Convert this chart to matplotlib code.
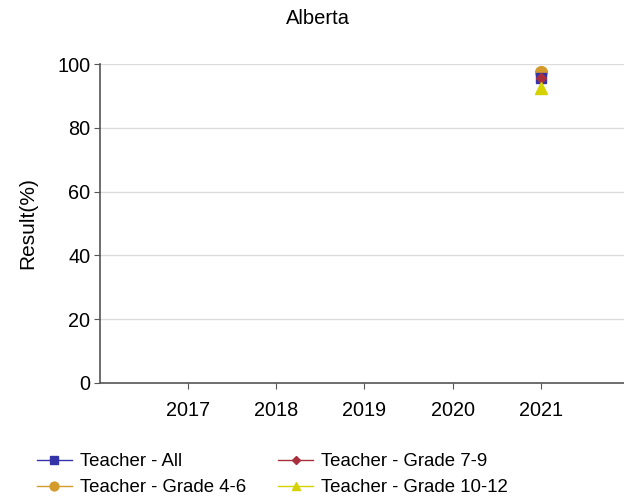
import numpy as np
import matplotlib.pyplot as plt

plt.rcParams['font.family'] = ['Liberation Sans', 'DejaVu Sans']

years = [2017, 2018, 2019, 2020, 2021]
teacher_all = [np.nan, np.nan, np.nan, np.nan, 95.6]
teacher_4_6 = [np.nan, np.nan, np.nan, np.nan, 97.4]
teacher_7_9 = [np.nan, np.nan, np.nan, np.nan, 95.5]
teacher_10_12 = [np.nan, np.nan, np.nan, np.nan, 92.5]

fig = plt.figure(figsize=(6.24, 5.01), dpi=100)
ax = fig.add_axes([100 / 624, 118 / 501, 529 / 624, 319 / 501])

l1, = ax.plot(years, teacher_all, color='#3434a8', marker='s', markersize=7.5, lw=1, label='Teacher - All', zorder=4)
l2, = ax.plot(years, teacher_4_6, color='#d39b2c', marker='o', markersize=8.5, lw=1, label='Teacher - Grade 4-6', zorder=3)
l3, = ax.plot(years, teacher_7_9, color='#a8303c', marker='D', markersize=5.5, lw=1, label='Teacher - Grade 7-9', zorder=5)
l4, = ax.plot(years, teacher_10_12, color='#d6d200', marker='^', markersize=8, lw=1, label='Teacher - Grade 10-12', zorder=6)

ax.set_xlim(2016, 2022)
ax.set_ylim(0, 100)
ax.set_xticks(years)
ax.set_yticks([0, 20, 40, 60, 80, 100])
ax.yaxis.grid(True, color='#dcdcdc', lw=1)
ax.set_axisbelow(True)
for s in ['top', 'right']:
    ax.spines[s].set_visible(False)
for s in ['left', 'bottom']:
    ax.spines[s].set_color('#555555')
    ax.spines[s].set_linewidth(1.2)
ax.tick_params(axis='both', colors='#555555', labelcolor='black', labelsize=14.3, length=4)
ax.tick_params(axis='x', pad=9)
ax.tick_params(axis='y', pad=3)

ax.set_ylabel('Result(%)', fontsize=15, labelpad=14)
fig.text(318 / 624, 1 - 18 / 501, 'Alberta', ha='center', va='center', fontsize=14.5)

fig.legend(handles=[l1, l2, l3, l4], ncol=2, loc='upper left', bbox_to_anchor=(37 / 624, 1 - 453 / 501),
           frameon=False, fontsize=13.4, handlelength=1.88, handletextpad=0.43, columnspacing=1.72,
           labelspacing=0.5, borderaxespad=0, borderpad=0, markerscale=0.75)

fig.savefig('out.png', dpi=100)
